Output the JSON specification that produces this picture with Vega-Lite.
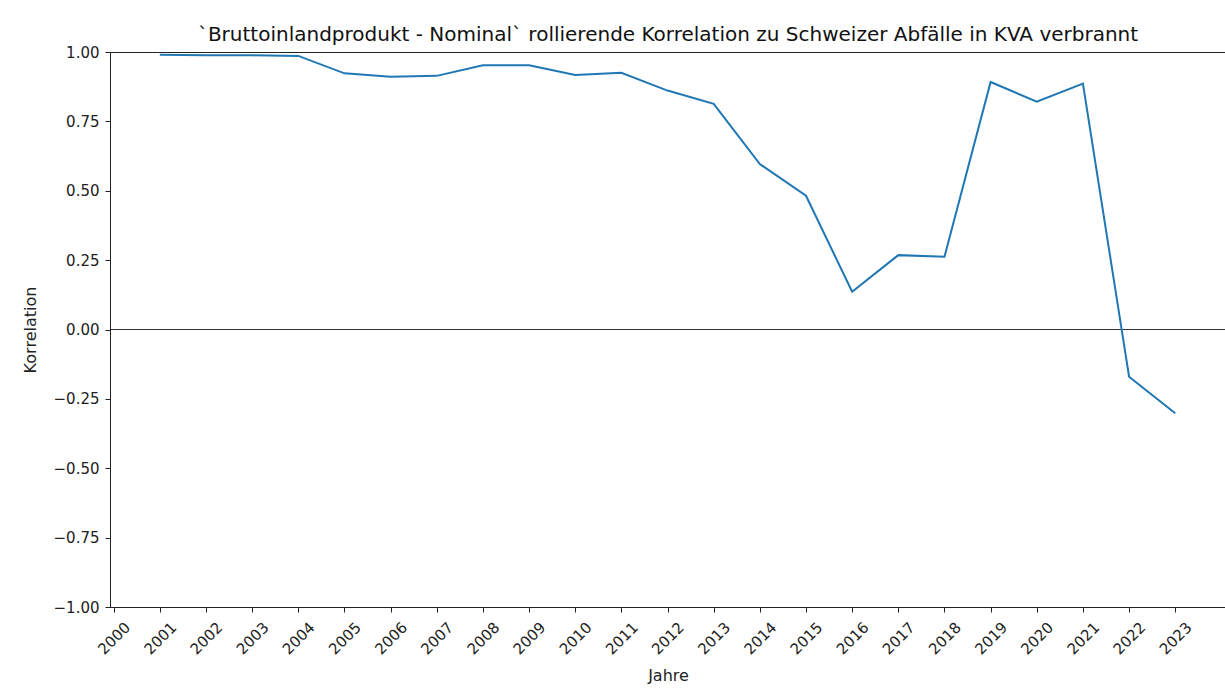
{
  "$schema": "https://vega.github.io/schema/vega-lite/v6.json",
  "autosize": "none",
  "padding": {"left": 110, "top": 52, "right": 0, "bottom": 81},
  "width": 1116,
  "height": 555,
  "background": "white",
  "config": {
    "font": "DejaVu Sans",
    "view": {"stroke": "#222", "strokeWidth": 1},
    "axis": {
      "domainColor": "#222",
      "tickColor": "#222",
      "labelColor": "#222",
      "titleColor": "#222",
      "grid": false,
      "labelFont": "DejaVu Sans",
      "titleFont": "DejaVu Sans",
      "labelFontSize": 15,
      "titleFontSize": 16,
      "titleFontWeight": "normal",
      "tickSize": 5
    },
    "title": {"font": "DejaVu Sans", "fontSize": 20, "fontWeight": "normal", "color": "#111"}
  },
  "title": {
    "text": "`Bruttoinlandprodukt - Nominal` rollierende Korrelation zu Schweizer Abfälle in KVA verbrannt",
    "anchor": "middle",
    "offset": 0
  },
  "data": {
    "values": [
      {"Jahr": 2001, "Korrelation": 0.990},
      {"Jahr": 2002, "Korrelation": 0.988},
      {"Jahr": 2003, "Korrelation": 0.988},
      {"Jahr": 2004, "Korrelation": 0.986},
      {"Jahr": 2005, "Korrelation": 0.923},
      {"Jahr": 2006, "Korrelation": 0.911},
      {"Jahr": 2007, "Korrelation": 0.914},
      {"Jahr": 2008, "Korrelation": 0.952},
      {"Jahr": 2009, "Korrelation": 0.952},
      {"Jahr": 2010, "Korrelation": 0.917},
      {"Jahr": 2011, "Korrelation": 0.925},
      {"Jahr": 2012, "Korrelation": 0.861},
      {"Jahr": 2013, "Korrelation": 0.813},
      {"Jahr": 2014, "Korrelation": 0.596},
      {"Jahr": 2015, "Korrelation": 0.482},
      {"Jahr": 2016, "Korrelation": 0.136},
      {"Jahr": 2017, "Korrelation": 0.268},
      {"Jahr": 2018, "Korrelation": 0.262},
      {"Jahr": 2019, "Korrelation": 0.892},
      {"Jahr": 2020, "Korrelation": 0.821},
      {"Jahr": 2021, "Korrelation": 0.886},
      {"Jahr": 2022, "Korrelation": -0.170},
      {"Jahr": 2023, "Korrelation": -0.302}
    ]
  },
  "layer": [
    {
      "mark": {"type": "rule", "color": "#000", "strokeWidth": 0.8},
      "data": {"values": [{"y0": 0}]},
      "encoding": {
        "y": {"field": "y0", "type": "quantitative", "scale": {"domain": [-1, 1], "nice": false, "zero": false}}
      }
    },
    {
      "mark": {"type": "line", "color": "#1f77b4", "strokeWidth": 2, "clip": true},
      "encoding": {
        "x": {
          "field": "Jahr",
          "type": "quantitative",
          "scale": {"domain": [1999.92, 2024.1], "nice": false, "zero": false},
          "axis": {
            "title": "Jahre",
            "values": [2000, 2001, 2002, 2003, 2004, 2005, 2006, 2007, 2008, 2009, 2010, 2011, 2012, 2013, 2014, 2015, 2016, 2017, 2018, 2019, 2020, 2021, 2022, 2023],
            "format": "d",
            "labelAngle": -45,
            "labelAlign": "center",
            "labelBaseline": "middle",
            "labelPadding": 26,
            "labelFlush": false,
            "labelOverlap": false,
            "titlePadding": 10
          }
        },
        "y": {
          "field": "Korrelation",
          "type": "quantitative",
          "scale": {"domain": [-1, 1], "nice": false, "zero": false},
          "axis": {
            "title": "Korrelation",
            "values": [-1, -0.75, -0.5, -0.25, 0, 0.25, 0.5, 0.75, 1],
            "format": ".2f",
            "labelPadding": 6,
            "labelFlush": false,
            "titlePadding": 15
          }
        }
      }
    }
  ]
}
